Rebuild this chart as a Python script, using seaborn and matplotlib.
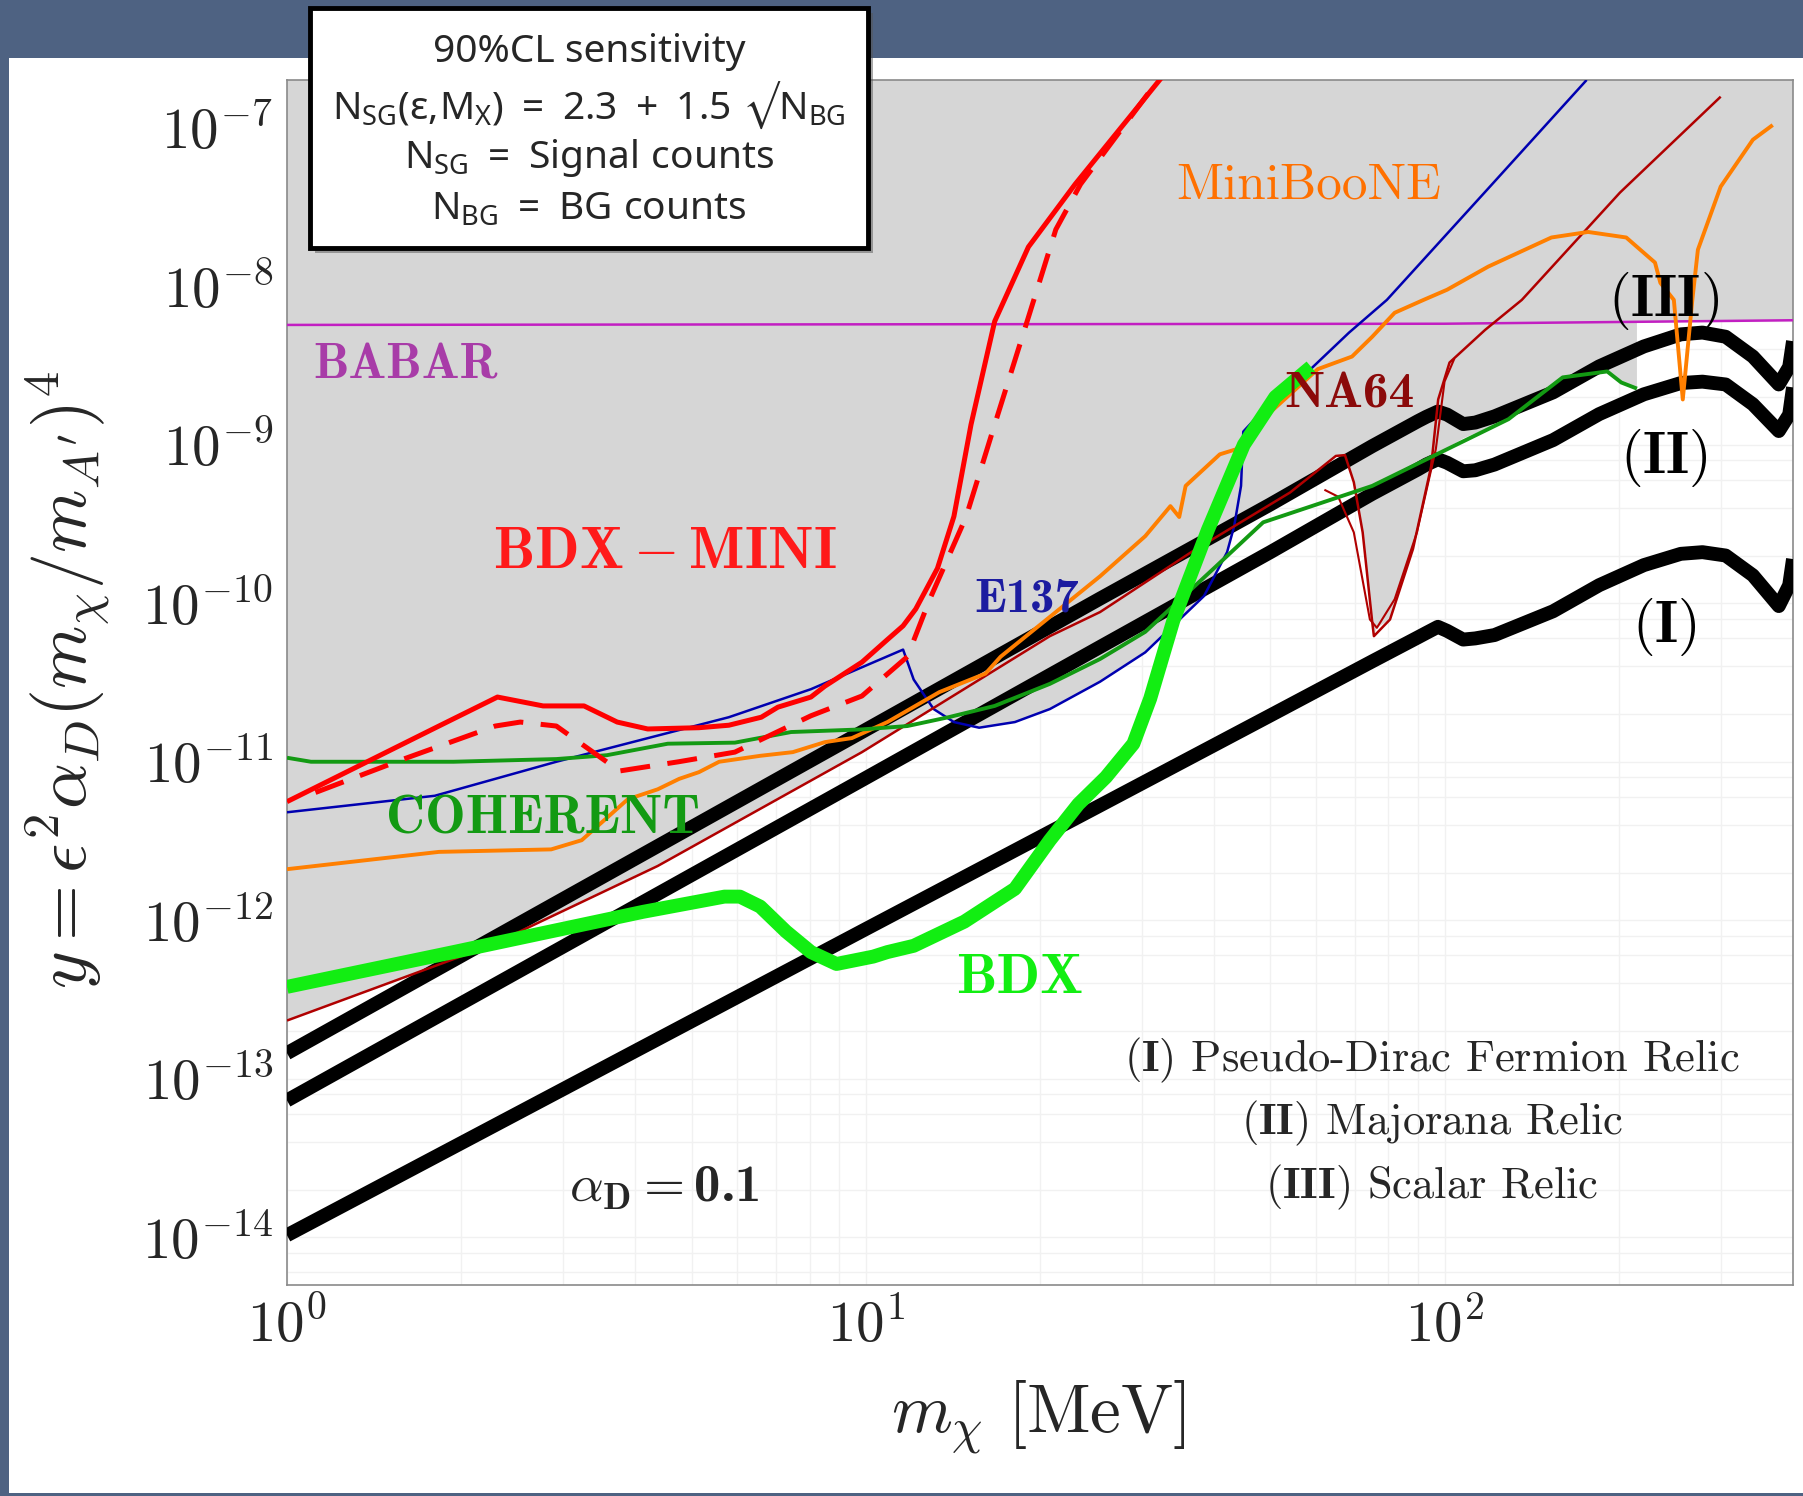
import matplotlib
matplotlib.use("Agg")
import matplotlib.pyplot as plt
from matplotlib.patches import Rectangle
from matplotlib.ticker import LogLocator, NullFormatter
import seaborn as sns

# ---- values: m_chi in MeV, y = eps^2 alpha_D (m_chi/m_A')^4 ----
relic_x = [1, 10, 25.4, 50, 75, 90, 93, 97.4, 101, 107.7, 113, 122, 154, 185, 221, 256, 279, 306, 341, 378, 394, 400]
relic_iii = [1.45e-13, 1.59e-11, 1.07e-10, 4.2e-10, 9.8e-10, 1.41e-9, 1.5e-9, 1.62e-9, 1.55e-9, 1.35e-9, 1.38e-9,
             1.51e-9, 2.14e-9, 3.12e-9, 4.17e-9, 4.97e-9, 5.1e-9, 4.8e-9, 3.6e-9, 2.4e-9, 3.1e-9, 4.5e-9]
relic_ii = [7.3e-14, 7.9e-12, 5.3e-11, 2.1e-10, 4.9e-10, 7.0e-10, 7.5e-10, 8.1e-10, 7.7e-10, 6.8e-10, 6.9e-10,
            7.5e-10, 1.07e-9, 1.56e-9, 2.08e-9, 2.45e-9, 2.5e-9, 2.4e-9, 1.8e-9, 1.22e-9, 1.55e-9, 2.3e-9]
relic_i = [1.03e-14, 8.8e-13, 5.3e-12, 1.96e-11, 4.3e-11, 6.1e-11, 6.5e-11, 7.1e-11, 6.7e-11, 5.9e-11, 6.0e-11,
           6.3e-11, 8.9e-11, 1.3e-10, 1.74e-10, 2.05e-10, 2.1e-10, 2.0e-10, 1.5e-10, 9.6e-11, 1.3e-10, 1.9e-10]

bdx_x = [1, 1.94, 4.12, 5.7, 6.06, 6.57, 7.28, 8.04, 8.9, 10.3, 10.9, 12.1, 14.8, 18.1, 20.8, 23.3, 26, 29, 31, 34, 39, 45, 51, 58.8]
bdx_y = [3.8e-13, 6.3e-13, 1.13e-12, 1.41e-12, 1.41e-12, 1.22e-12, 8.5e-13, 6.3e-13, 5.3e-13, 5.9e-13, 6.3e-13,
         6.9e-13, 9.8e-13, 1.58e-12, 3.2e-12, 5.4e-12, 8e-12, 1.3e-11, 2.5e-11, 7.8e-11, 2.9e-10, 1.0e-9, 2.0e-9, 3.1e-9]

mini_x = [1, 1.83, 2.31, 2.77, 3.26, 3.72, 4.2, 5.15, 5.8, 6.6, 7.05, 8.04, 8.5, 9.85, 10.9, 11.6, 12.2,
          13.3, 14.2, 15.2, 16.7, 19.1, 23.0, 32.4]
mini_y = [5.6e-12, 1.68e-11, 2.56e-11, 2.25e-11, 2.25e-11, 1.78e-11, 1.61e-11, 1.64e-11, 1.7e-11, 1.91e-11,
          2.21e-11, 2.56e-11, 3.0e-11, 4.25e-11, 5.9e-11, 7.2e-11, 9.2e-11, 1.66e-10, 3.53e-10, 1.34e-9, 6.0e-9,
          1.77e-8, 4.4e-8, 2.06e-7]
mini_dash_x = [1.12, 1.59, 2.29, 2.53, 2.92, 3.57, 3.72, 4.75, 5.94, 8.04, 9.85, 11.8, 12.9, 14.9, 16.7, 19.0,
               21.3, 23.5, 32.2]
mini_dash_y = [6.4e-12, 1.04e-11, 1.68e-11, 1.78e-11, 1.68e-11, 9.97e-12, 8.7e-12, 1.0e-11, 1.15e-11, 1.95e-11,
               2.6e-11, 4.6e-11, 1.06e-10, 3.5e-10, 1.34e-9, 6.0e-9, 2.28e-8, 4.4e-8, 2.06e-7]

e137_x = [1, 1.8, 2.92, 5.8, 8.04, 11.6, 12.1, 13.1, 14.2, 15.7, 18.1, 20.8, 25.4, 30.4, 38.4, 42.1, 43.3, 44.5,
          44.9, 51, 58.7, 68.4, 79.5, 118, 176]
e137_y = [4.8e-12, 6.1e-12, 1.0e-11, 1.91e-11, 2.87e-11, 5.1e-11, 3.3e-11, 2.15e-11, 1.78e-11, 1.64e-11, 1.78e-11,
          2.15e-11, 3.2e-11, 4.9e-11, 1.11e-10, 2.1e-10, 3.06e-10, 5.5e-10, 1.21e-9, 2.0e-9, 3.0e-9, 5.1e-9,
          8.2e-9, 4.0e-8, 2.0e-7]

na64_x = [1, 2.24, 4.37, 9.85, 20.8, 25.4, 36.5, 54.1, 64.9, 67.3, 69.7, 72.2, 75.0, 75.5, 80.5, 88.2, 94.8,
          97.5, 102, 117.5, 136, 201, 300]
na64_y = [2.33e-13, 6.9e-13, 2.2e-12, 1.15e-11, 6.2e-11, 8.8e-11, 2.1e-10, 5.0e-10, 8.5e-10, 8.6e-10, 5.8e-10,
          2.8e-10, 7.6e-11, 6.2e-11, 7.9e-11, 2.2e-10, 7.3e-10, 1.93e-9, 3.3e-9, 5.3e-9, 8.2e-9, 3.9e-8, 1.57e-7]
na64_inner_x = [62, 65.5, 69.7, 74.3, 76.4, 82, 89.6, 96.6, 100, 104]
na64_inner_y = [5.2e-10, 4.7e-10, 2.8e-10, 7.9e-11, 7.0e-11, 1.06e-10, 2.8e-10, 9.4e-10, 2.5e-9, 3.5e-9]

mb_x = [1, 1.83, 2.86, 3.23, 3.88, 4.37, 4.76, 5.15, 5.58, 6.57, 7.48, 8.5, 9.46, 10.9, 13.4, 16.1, 17.1, 20.8,
        25.4, 30.4, 33.6, 34.8, 35.7, 40.9, 43.6, 47.8, 52.2, 60.4, 69.2, 75, 82, 92, 101, 119, 153, 177, 206,
        231, 236, 249, 258, 268, 274, 300, 341, 369]
mb_y = [2.1e-12, 2.7e-12, 2.8e-12, 3.2e-12, 5.8e-12, 6.7e-12, 7.8e-12, 8.6e-12, 1.0e-11, 1.09e-11, 1.15e-11,
        1.33e-11, 1.41e-11, 1.78e-11, 2.75e-11, 3.6e-11, 4.6e-11, 8.2e-11, 1.48e-10, 2.65e-10, 4.1e-10, 3.5e-10,
        5.5e-10, 8.7e-10, 9.35e-10, 1.38e-9, 1.85e-9, 3.0e-9, 3.6e-9, 4.8e-9, 6.8e-9, 8.2e-9, 9.5e-9, 1.33e-8,
        2.03e-8, 2.2e-8, 2.03e-8, 1.41e-8, 1.05e-8, 8.2e-9, 1.93e-9, 8.2e-9, 1.7e-8, 4.25e-8, 8.4e-8, 1.04e-7]

coh_x = [1, 1.1, 1.94, 2.92, 3.57, 4.55, 5.94, 7.43, 9.85, 11.8, 13.9, 16.7, 20.8, 25.4, 30.4, 39.8, 48.6, 75,
         129, 160, 191, 202, 215]
coh_y = [1.06e-11, 1.0e-11, 1.0e-11, 1.04e-11, 1.1e-11, 1.3e-11, 1.32e-11, 1.54e-11, 1.6e-11, 1.68e-11, 1.91e-11,
         2.25e-11, 3.1e-11, 4.45e-11, 6.6e-11, 1.64e-10, 3.24e-10, 5.5e-10, 1.45e-9, 2.66e-9, 2.9e-9, 2.47e-9,
         2.26e-9]

babar_x = [1, 100, 400]
babar_y = [5.7e-9, 5.8e-9, 6.1e-9]

# lower edge of the grey (already excluded) region
excl_x = [1, 2.24, 4.37, 9.85, 13.0, 14.2, 15.7, 18.1, 20.8, 25.4, 30.4, 38.4, 42.1, 43.3, 54.1, 64.9, 67.3,
          69.7, 72.2, 75.0, 75.5, 76.4, 80.5, 88.2, 94.8, 95.5, 108, 129, 160, 191, 202, 215, 215, 400]
excl_y = [2.33e-13, 6.9e-13, 2.2e-12, 1.15e-11, 2.15e-11, 1.78e-11, 1.64e-11, 1.78e-11, 2.15e-11, 3.2e-11,
          4.9e-11, 1.11e-10, 2.1e-10, 3.06e-10, 5.0e-10, 8.5e-10, 8.6e-10, 5.8e-10, 2.8e-10, 7.6e-11, 6.2e-11,
          7.0e-11, 7.9e-11, 2.2e-10, 7.3e-10, 8.5e-10, 1.1e-9, 1.45e-9, 2.66e-9, 2.9e-9, 2.47e-9, 2.26e-9,
          5.9e-9, 6.1e-9]

xtick_vals = [1, 10, 100]
xtick_labels = [r'$10^{0}$', r'$10^{1}$', r'$10^{2}$']
ytick_vals = [1e-14, 1e-13, 1e-12, 1e-11, 1e-10, 1e-9, 1e-8, 1e-7]
ytick_labels = [r'$10^{-14}$', r'$10^{-13}$', r'$10^{-12}$', r'$10^{-11}$',
                r'$10^{-10}$', r'$10^{-9}$', r'$10^{-8}$', r'$10^{-7}$']

box_lines = [r'90%CL sensitivity',
             r'$\mathregular{N_{SG}(ε,\!M_X)\ =\ 2.3\ +\ 1.5\ √N_{BG}}$',
             r'$\mathregular{N_{SG}\ =\ Signal\ counts}$',
             r'$\mathregular{N_{BG}\ =\ BG\ counts}$']

sns.set_theme(style="white")
plt.rcParams['mathtext.fontset'] = 'cm'
plt.rcParams['font.family'] = ['DejaVu Sans']

fig = plt.figure(figsize=(18.03, 14.96), dpi=100, facecolor='#4e6282')
fig.patches.append(Rectangle((9 / 1803, 3 / 1496), 1.0, 1435 / 1496, transform=fig.transFigure,
                             facecolor='white', edgecolor='none', zorder=-1))
ax = fig.add_axes([287 / 1803, 211 / 1496, 1506 / 1803, 1205 / 1496])
ax.set_facecolor('white')
ax.set_xscale('log')
ax.set_yscale('log')
ax.set_xlim(1, 400)
ax.set_ylim(5e-15, 2e-7)

# grey excluded area
ax.fill_between(excl_x, excl_y, 1.0, color='#d6d6d6', lw=0, zorder=1)


def curve(x, y, color, lw, z, **kw):
    sns.lineplot(x=x, y=y, ax=ax, estimator=None, sort=False, color=color, lw=lw,
                 legend=False, zorder=z, solid_capstyle='butt', **kw)


curve(relic_x, relic_iii, 'black', 10, 3, solid_joinstyle='round')
curve(relic_x, relic_ii, 'black', 10, 3, solid_joinstyle='round')
curve(relic_x, relic_i, 'black', 10, 3, solid_joinstyle='round')
curve(babar_x, babar_y, '#c21fc2', 1.8, 4)
curve(e137_x, e137_y, '#0000b0', 1.8, 4)
curve(na64_x, na64_y, '#b00000', 1.8, 4)
curve(na64_inner_x, na64_inner_y, '#b00000', 1.5, 4)
curve(mb_x, mb_y, '#ff7f00', 2.8, 4)
curve(coh_x, coh_y, '#139a13', 2.8, 4)
curve(mini_x, mini_y, '#ff0000', 3.6, 4.5)
curve(mini_dash_x, mini_dash_y, '#ff0000', 3.6, 4.5, linestyle=(0, (6, 3.5)))
curve(bdx_x, bdx_y, '#12ee12', 10, 5)

# axes styling
for s in ax.spines.values():
    s.set_color('#8a8a8a')
    s.set_linewidth(1.2)
ax.set_xticks(xtick_vals, labels=xtick_labels)
ax.set_yticks(ytick_vals, labels=ytick_labels)
ax.xaxis.set_minor_locator(LogLocator(base=10, subs=range(2, 10)))
ax.xaxis.set_minor_formatter(NullFormatter())
ax.yaxis.set_minor_locator(LogLocator(base=10, subs=(2, 4, 6, 8)))
ax.yaxis.set_minor_formatter(NullFormatter())
ax.tick_params(axis='both', which='both', direction='in', length=13, width=1.1, color='#333333',
               labelsize=41, pad=10, top=False, right=False)
ax.tick_params(axis='y', which='minor', length=0)
ax.grid(True, which='both', color='#f1f1f1', lw=1.0)
ax.set_axisbelow(True)

ax.set_xlabel(r'$m_\chi\ [\mathrm{MeV}]$', fontsize=50)
ax.xaxis.set_label_coords(0.499, -0.078)
ax.set_ylabel(r"$y = \epsilon^2\alpha_D(m_\chi/m_{A'})^4$", fontsize=52)
ax.yaxis.set_label_coords(-0.116, 0.502)

# curve labels
tx = dict(transform=ax.transAxes, ha='center', va='center', zorder=6)
ax.text(0.0784, 0.7627, 'BABAR', family='cmb10', color='#a83ca8', fontsize=36, **tx)
ax.text(0.2510, 0.6083, r'$\mathbf{BDX - MINI}$', color='#ff1a1a', fontsize=42, **tx)
ax.text(0.6786, 0.9120, 'MiniBooNE', family='cmr10', color='#ff7000', fontsize=37, **tx)
ax.text(0.4914, 0.5690, 'E137', family='cmb10', color='#1c1ca0', fontsize=35, **tx)
ax.text(0.7052, 0.7390, 'NA64', family='cmb10', color='#8b0a0a', fontsize=37, **tx)
ax.text(0.1700, 0.3860, 'COHERENT', family='cmb10', color='#139a13', fontsize=39, **tx)
ax.text(0.4867, 0.2540, 'BDX', family='cmb10', color='#12ee12', fontsize=41, **tx)
ax.text(0.9143, 0.8166, r'$(\mathbf{III})$', color='black', fontsize=42, **tx)
ax.text(0.9143, 0.6863, r'$(\mathbf{II})$', color='black', fontsize=42, **tx)
ax.text(0.9143, 0.5461, r'$(\mathbf{I})$', color='black', fontsize=42, **tx)
ax.text(0.7603, 0.1867, r'$(\mathbf{I})$ Pseudo-Dirac Fermion Relic', family='cmr10', fontsize=32, **tx)
ax.text(0.7603, 0.1344, r'$(\mathbf{II})$ Majorana Relic', family='cmr10', fontsize=32, **tx)
ax.text(0.7603, 0.0813, r'$(\mathbf{III})$ Scalar Relic', family='cmr10', fontsize=32, **tx)
ax.text(0.2503, 0.0805, r'$\alpha_\mathbf{D} =$0.1', family='cmb10', fontsize=38, **tx)

# info box on top
bx0, by0, bw, bh = 310 / 1803, 1 - 248 / 1496, 558 / 1803, 240 / 1496
fig.patches.append(Rectangle((bx0 + 5 / 1803, by0 - 5 / 1496), bw, bh, transform=fig.transFigure,
                             facecolor='#555555', edgecolor='none', alpha=0.5, zorder=5))
fig.patches.append(Rectangle((bx0, by0), bw, bh, transform=fig.transFigure,
                             facecolor='white', edgecolor='black', lw=3.5, zorder=6))
for yy, line in zip([52, 105, 158, 210], box_lines):
    fig.text(589 / 1803, 1 - yy / 1496, line, ha='center', va='center', fontsize=28,
             family='Noto Sans', zorder=7)

fig.savefig('out.png', dpi=100, facecolor=fig.get_facecolor())
